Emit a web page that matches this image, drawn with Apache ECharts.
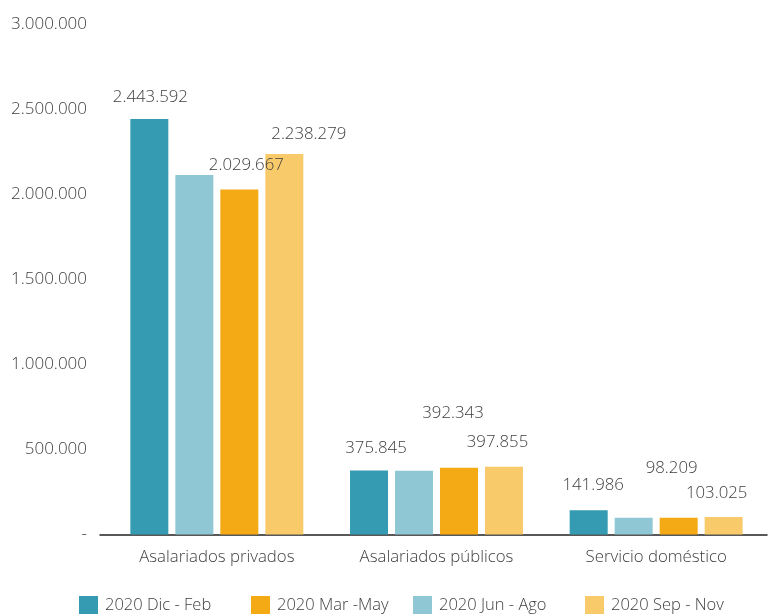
<!DOCTYPE html>
<html>
<head>
<meta charset="utf-8">
<script src="https://cdn.jsdelivr.net/npm/echarts@6/dist/echarts.min.js"></script>
<style>html,body{margin:0;padding:0;background:#fff}#c{width:770px;height:614px}</style>
</head>
<body>
<div id="c"></div>
<script>
const categories = ['Asalariados privados', 'Asalariados públicos', 'Servicio doméstico'];
const seriesNames = ['2020 Dic - Feb', '2020 Jun - Ago', '2020 Mar -May', '2020 Sep - Nov'];
const legendOrder = ['2020 Dic - Feb', '2020 Mar -May', '2020 Jun - Ago', '2020 Sep - Nov'];
const dicFeb = [2443592, 375845, 141986];
const junAgo = [2115000, 375000, 98000];
const marMay = [2029667, 392343, 98209];
const sepNov = [2238279, 397855, 103025];
const yTicks = [0, 500000, 1000000, 1500000, 2000000, 2500000, 3000000];

const colors = ['#359BB3', '#8FC8D4', '#F4AA14', '#F8CA6A'];
const showLabel = [true, false, true, true];
// label nudges [dx, dy] per series / category
const labelNudge = [
  [[1, -13.6], [7, -14.1], [4.5, -17.4]],
  null,
  [[7, -16.5], [-6, -46.3], [-7, -41.8]],
  [[24.5, -11.5], [-6.5, -16.9], [-7, -16]]
];

function fmt(v) {
  if (v === 0) return '-';
  return String(Math.round(v)).replace(/\B(?=(\d{3})+(?!\d))/g, '.');
}

const txt = '#404040';
const font = '"Open Sans", "Noto Sans", sans-serif';
const weight = 300;
const fs = 16.8;
const allData = [dicFeb, junAgo, marMay, sepNov];

const series = seriesNames.map((name, i) => ({
  name: name,
  type: 'bar',
  xAxisIndex: 0,
  yAxisIndex: 0,
  barWidth: 38,
  barGap: '18.4%',
  itemStyle: { color: colors[i] },
  data: allData[i].map((v, j) => {
    const item = { value: v };
    if (showLabel[i]) {
      item.label = {
        show: true,
        position: 'top',
        distance: 0,
        offset: labelNudge[i][j],
        formatter: p => fmt(p.value),
        fontSize: fs,
        lineHeight: 16,
        color: txt,
        fontWeight: weight,
        fontFamily: font
      };
    }
    return item;
  })
}));

const legends = legendOrder.map((name, k) => ({
  data: [name],
  left: [79, 251, 413, 585][k],
  top: 596,
  itemWidth: 19,
  itemHeight: 19,
  icon: 'rect',
  padding: 0,
  textStyle: { fontSize: 16.5, color: txt, fontWeight: weight, fontFamily: font, padding: [0, 0, 0, 2] }
}));

const chart = echarts.init(document.getElementById('c'), null, { renderer: 'canvas' });
chart.setOption({
  animation: false,
  textStyle: { fontFamily: font },
  legend: legends,
  grid: [
    { left: 107, right: 4, top: 24.5, bottom: 79.5 },
    { left: 100, right: 3, top: 24.5, bottom: 79.5 }
  ],
  xAxis: [
    {
      type: 'category', gridIndex: 0, data: categories,
      axisLine: { show: false },
      axisTick: { show: false },
      axisLabel: { fontSize: fs, color: txt, margin: 14, fontWeight: weight, fontFamily: font }
    },
    {
      type: 'category', gridIndex: 1, data: categories,
      axisLine: { show: true, lineStyle: { color: '#222', width: 1.5 } },
      axisTick: { show: false },
      axisLabel: { show: false }
    }
  ],
  yAxis: [
    {
      type: 'value', gridIndex: 0, min: yTicks[0], max: yTicks[yTicks.length - 1], interval: yTicks[1] - yTicks[0],
      splitLine: { show: false },
      axisLine: { show: false },
      axisTick: { show: false },
      axisLabel: { fontSize: 17, color: txt, margin: 20, fontWeight: weight, formatter: fmt, fontFamily: font }
    },
    {
      type: 'value', gridIndex: 1, show: false, min: 0, max: 3000000
    }
  ],
  series: series
});
</script>
</body>
</html>
